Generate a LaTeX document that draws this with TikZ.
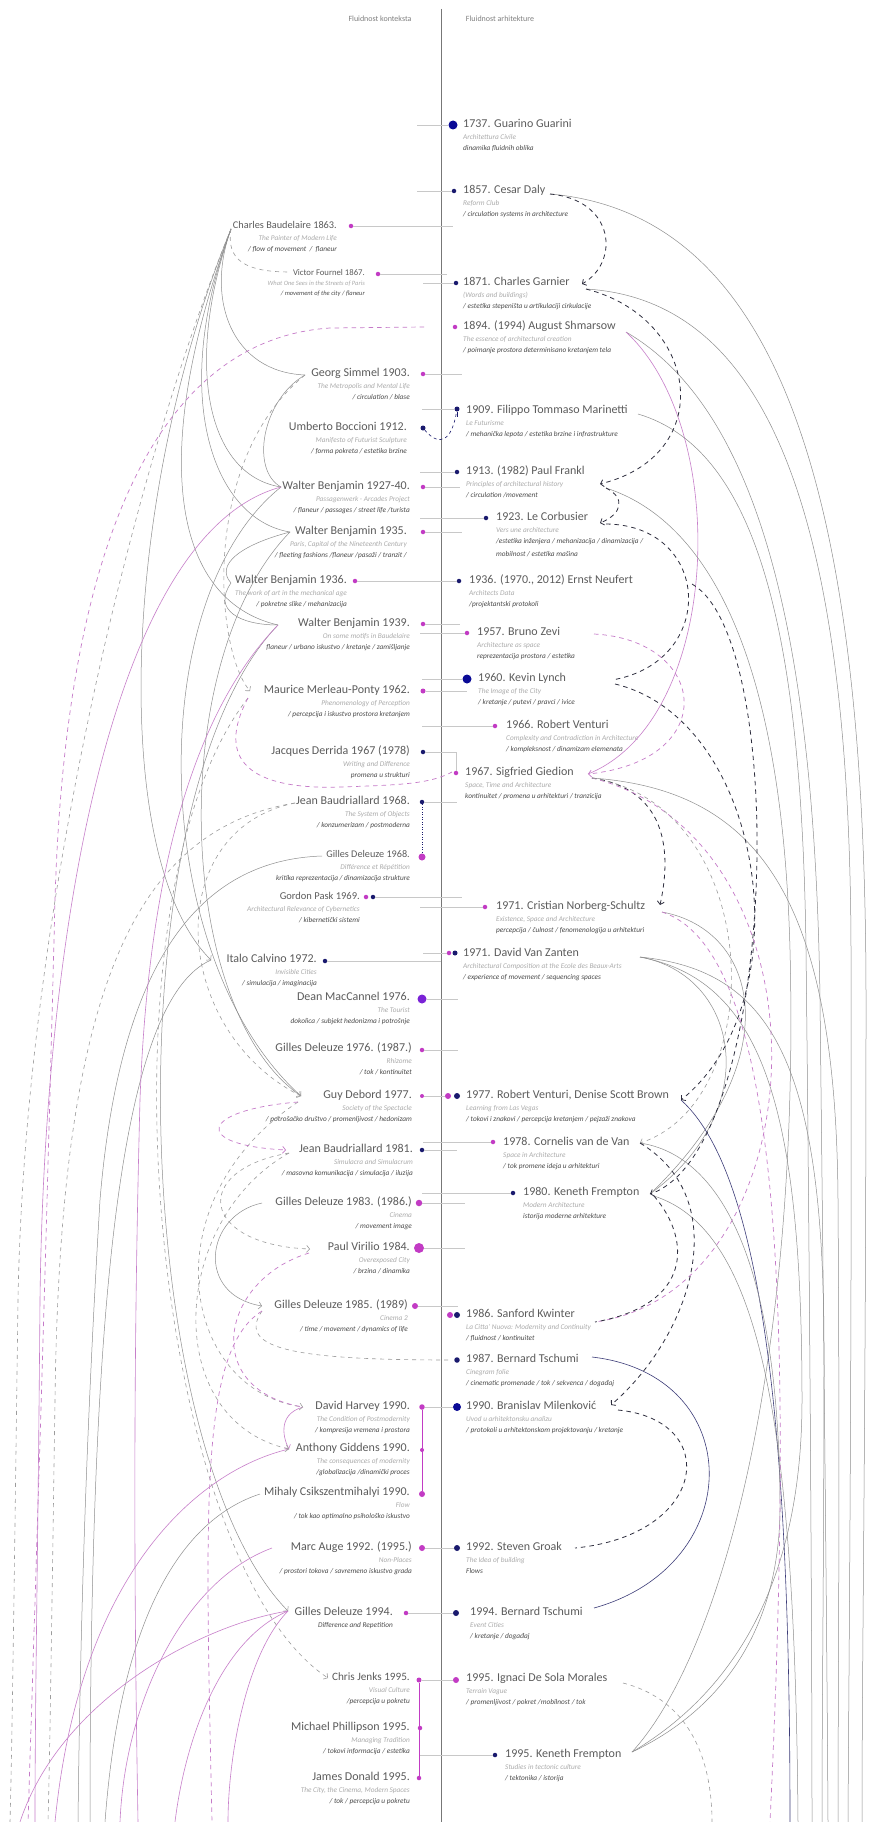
\documentclass[tikz,border=0pt]{standalone}
\usepackage{fontspec}
\setmainfont{Carlito}
\usetikzlibrary{arrows.meta}

\definecolor{navy}{HTML}{1A1A6E}
\definecolor{blu}{HTML}{0A0A96}
\definecolor{mag}{HTML}{C23BC4}
\definecolor{vio}{HTML}{7A22D6}
\definecolor{ttlc}{HTML}{5C5C5C}
\definecolor{s1c}{HTML}{ABABAB}
\definecolor{s2c}{HTML}{4A4A4A}
\definecolor{axc}{HTML}{777777}
\definecolor{leadc}{HTML}{C8C8C8}
\definecolor{gline}{HTML}{8E8E8E}
\definecolor{pline}{HTML}{C77FCA}
\definecolor{nline}{HTML}{3C3C78}
\definecolor{bdc}{HTML}{2E2E3E}
\definecolor{gdc}{HTML}{9C9C9C}
\definecolor{pdc}{HTML}{C57AC8}

% one entry of the left (context) column: title, book, keywords
\newcommand{\LeftItem}[7]{%
  \node[ttl,anchor=mid east,font=\fontsize{#4}{#4}\selectfont] (#1) at (#2,#3) {#5};
  \node[sa,anchor=mid east] (#1-a) at (#2,#3+12) {#6};
  \node[sb,anchor=mid east] (#1-b) at (#2,#3+23) {#7};}
% one entry of the right (architecture) column
\newcommand{\RightItem}[7]{%
  \node[ttl,anchor=mid west,font=\fontsize{#4}{#4}\selectfont] (#1) at (#2,#3) {#5};
  \node[sa,anchor=mid west] (#1-a) at (#2,#3+12) {#6};
  \node[sb,anchor=mid west] (#1-b) at (#2,#3+23) {#7};}

\begin{document}
\begin{tikzpicture}[x=1pt,y=-1pt,
  ttl/.style={inner sep=0pt,text=ttlc},
  sa/.style={inner sep=0pt,text=s1c,font=\fontsize{7.3}{8}\selectfont\itshape},
  sb/.style={inner sep=0pt,text=s2c,font=\fontsize{7.3}{8}\selectfont\itshape},
  hdr/.style={inner sep=0pt,text=gray,font=\fontsize{8}{9}\selectfont},
  dotm/.style={circle,fill=mag,inner sep=0pt,minimum size=4.5pt},
  dotn/.style={circle,fill=navy,inner sep=0pt,minimum size=4.5pt},
  dotb/.style={circle,fill=blu,inner sep=0pt,minimum size=9pt},
  axis/.style={draw=axc,line width=0.7pt},
  lead/.style={draw=leadc,line width=0.5pt},
  gsol/.style={draw=gline,line width=0.5pt},
  psol/.style={draw=pline,line width=0.6pt},
  nsol/.style={draw=nline,line width=0.6pt},
  bdash/.style={draw=bdc,line width=0.8pt,dash pattern=on 4.5pt off 4pt},
  gdash/.style={draw=gdc,line width=0.6pt,dash pattern=on 4pt off 4pt},
  pdash/.style={draw=pdc,line width=0.7pt,dash pattern=on 4.5pt off 4pt},
  barb/.style={-{Straight Barb[length=3pt,width=7pt]}}]

\fill[white] (0,0) rectangle (875,1822);
\useasboundingbox (0,0) rectangle (875,1822);

% ---------- time axis and column headings ----------
\coordinate (ax-top) at (441,9);
\coordinate (ax-bot) at (441,1822);
\draw[axis] (ax-top) -- (ax-bot);
\node[hdr] (hk) at (380,19) {Fluidnost konteksta};
\node[hdr] (ha) at (500,19) {Fluidnost arhitekture};

% ---------- context column ----------
\LeftItem{baud}{337}{226}{10.3}{Charles Baudelaire 1863.}{The Painter of Modern Life}{/ flow of movement \ / \ flaneur}
\node[ttl,anchor=mid east,font=\fontsize{8.7}{9}\selectfont] (fourn) at (365,273) {Victor Fournel 1867.};
\node[sa,anchor=mid east,font=\fontsize{6.5}{7}\selectfont\itshape] (fourn-a) at (365,283) {What One Sees in the Streets of Paris};
\node[sb,anchor=mid east,font=\fontsize{6.5}{7}\selectfont\itshape] (fourn-b) at (365,293) {/ movement of the city / flaneur};
\LeftItem{sim}{410}{374}{12}{Georg Simmel 1903.}{The Metropolis and Mental Life}{/ circulation / blase}
\LeftItem{boc}{407}{428}{12}{Umberto Boccioni 1912.}{Manifesto of Futurist Sculpture}{/ forma pokreta / estetika brzine}
\LeftItem{wbA}{410}{487}{12}{Walter Benjamin 1927-40.}{Passagenwerk - Arcades Project}{/ flaneur / passages / street life /turista}
\LeftItem{wbB}{407}{532}{12}{Walter Benjamin 1935.}{Paris, Capital of the Nineteenth Century}{/ fleeting fashions /flaneur /pasaži / tranzit /}
\LeftItem{wbC}{347}{581}{12}{Walter Benjamin 1936.}{The work of art in the mechanical age}{/ pokretne slike / mehanizacija}
\LeftItem{wbD}{410}{624}{12}{Walter Benjamin 1939.}{On some motifs in Baudelaire}{flaneur / urbano iskustvo / kretanje / zamišljanje}
\LeftItem{mer}{410}{691}{12}{Maurice Merleau-Ponty 1962.}{Phenomenology of Perception}{/ percepcija i iskustvo prostora kretanjem}
\LeftItem{der}{410}{752}{12}{Jacques Derrida 1967 (1978)}{Writing and Difference}{promena u strukturi}
\LeftItem{bdA}{410}{802}{12}{Jean Baudriallard 1968.}{The System of Objects}{/ konzumerizam / postmoderna}
\LeftItem{dlA}{410}{855}{10.2}{Gilles Deleuze 1968.}{Différence et Répétition}{kritika reprezentacija / dinamizacija strukture}
\LeftItem{pask}{360}{897}{10.5}{Gordon Pask 1969.}{Architectural Relevance of Cybernetics}{/ kibernetički sistemi}
\LeftItem{calv}{317}{960}{12}{Italo Calvino 1972.}{Invisible Cities}{/ simulacija / imaginacija}
\LeftItem{mac}{410}{998}{12}{Dean MacCannel 1976.}{The Tourist}{dokolica / subjekt hedonizma i potrošnje}
\LeftItem{dlB}{412}{1049}{12}{Gilles Deleuze 1976. (1987.)}{Rhizome}{/ tok / kontinuitet}
\LeftItem{deb}{412}{1096}{12}{Guy Debord 1977.}{Society of the Spectacle}{/ potrošačko društvo / promenljivost / hedonizam}
\LeftItem{bdB}{413}{1150}{12}{Jean Baudriallard 1981.}{Simulacra and Simulacrum}{/ masovna komunikacija / simulacija / iluzija}
\LeftItem{dlC}{412}{1203}{12}{Gilles Deleuze 1983. (1986.)}{Cinema}{/ movement image}
\LeftItem{vir}{410}{1248}{12}{Paul Virilio 1984.}{Overexposed City}{/ brzina / dinamika}
\LeftItem{dlD}{408}{1306}{12}{Gilles Deleuze 1985. (1989)}{Cinema 2}{/ time / movement / dynamics of life}
\LeftItem{har}{410}{1407}{12}{David Harvey 1990.}{The Condition of Postmodernity}{/ kompresija vremena i prostora}
\LeftItem{gid}{410}{1449}{12}{Anthony Giddens 1990.}{The consequences of modernity}{/globalizacija /dinamički proces}
\LeftItem{csik}{410}{1493}{12}{Mihaly Csikszentmihalyi 1990.}{Flow}{/ tok kao optimalno psihološko iskustvo}
\LeftItem{auge}{412}{1548}{12}{Marc Auge 1992. (1995.)}{Non-Places}{/ prostori tokova / savremeno iskustvo grada}
\node[ttl,anchor=mid east,font=\fontsize{12}{12}\selectfont] (dlE) at (393,1613) {Gilles Deleuze 1994.};
\node[sb,anchor=mid east] (dlE-a) at (393,1625) {Difference and Repetition};
\LeftItem{jenks}{410}{1678}{11.2}{Chris Jenks 1995.}{Visual Culture}{/percepcija u pokretu}
\LeftItem{phil}{410}{1728}{12}{Michael Phillipson 1995.}{Managing Tradition}{/ tokovi informacija / estetika}
\LeftItem{don}{410}{1778}{12}{James Donald 1995.}{The City, the Cinema, Modern Spaces}{/ tok / percepcija u pokretu}

% ---------- architecture column ----------
\RightItem{gua}{463}{125}{12}{1737. Guarino Guarini}{Architettura Civile}{dinamika fluidnih oblika}
\RightItem{daly}{463}{191}{12}{1857. Cesar Daly}{Reform Club}{/ circulation systems in architecture}
\RightItem{gar}{463}{283}{12}{1871. Charles Garnier}{(Words and buildings)}{/ estetika stepeništa u artikulaciji cirkulacije}
\RightItem{shm}{463}{327}{12}{1894. (1994) August Shmarsow}{The essence of architectural creation}{/ poimanje prostora determinisano kretanjem tela}
\RightItem{mar}{466}{411}{12}{1909. Filippo Tommaso Marinetti}{Le Futurisme}{/ mehanička lepota / estetika brzine i infrastrukture}
\RightItem{fra}{466}{472}{12}{1913. (1982) Paul Frankl}{Principles of architectural history}{/ circulation /movement}
\RightItem{cor}{496}{518}{12}{1923. Le Corbusier}{Vers une architecture}{/estetika inženjera / mehanizacija / dinamizacija /}
\node[sb,anchor=mid west] (cor-c) at (496,554) {mobilnost / estetika mašina};
\RightItem{neu}{469}{581}{12}{1936. (1970., 2012) Ernst Neufert}{Architects Data}{/projektantski protokoli}
\RightItem{zevi}{477}{633}{12}{1957. Bruno Zevi}{Architecture as space}{reprezentacija prostora / estetika}
\RightItem{lyn}{478}{679}{12}{1960. Kevin Lynch}{The Image of the City}{/ kretanje / putevi / pravci / ivice}
\RightItem{ven}{506}{726}{12}{1966. Robert Venturi}{Complexity and Contradiction in Architecture}{/ kompleksnost / dinamizam elemenata}
\RightItem{gie}{465}{773}{12}{1967. Sigfried Giedion}{Space, Time and Architecture}{kontinuitet / promena u arhitekturi / tranzicija}
\RightItem{nor}{496}{907}{12}{1971. Cristian Norberg-Schultz}{Existence, Space and Architecture}{percepcija / čulnost / fenomenologija u arhitekturi}
\RightItem{zan}{463}{954}{12}{1971. David Van Zanten}{Architectural Composition at the Ecole des Beaux-Arts}{/ experience of movement / sequencing spaces}
\RightItem{vsb}{466}{1096}{12}{1977. Robert Venturi, Denise Scott Brown}{Learning from Las Vegas}{/ tokovi i znakovi / percepcija kretanjem / pejzaži znakova}
\RightItem{vdv}{503}{1143}{12}{1978. Cornelis van de Van}{Space in Architecture}{/ tok promene ideja u arhitekturi}
\RightItem{frA}{523}{1193}{12}{1980. Keneth Frempton}{Modern Architecture}{istorija moderne arhitekture}
\RightItem{kwi}{466}{1315}{12}{1986. Sanford Kwinter}{La Citta' Nuova: Modernity and Continuity}{/ fluidnost / kontinuitet}
\RightItem{tsA}{466}{1360}{12}{1987. Bernard Tschumi}{Cinegram folie}{/ cinematic promenade / tok / sekvenca / događaj}
\RightItem{mil}{466}{1407}{12}{1990. Branislav Milenković}{Uvod u arhitektonsku analizu}{/ protokoli u arhitektonskom projektovanju / kretanje}
\RightItem{gro}{466}{1548}{12}{1992. Steven Groak}{The Idea of building}{Flows}
\RightItem{tsB}{470}{1613}{12}{1994. Bernard Tschumi}{Event Cities}{/ kretanje / događaj}
\RightItem{sol}{466}{1679}{12}{1995. Ignaci De Sola Morales}{Terrain Vague}{/ promenljivost / pokret /mobilnost / tok}
\RightItem{frB}{505}{1755}{12}{1995. Keneth Frempton}{Studies in tectonic culture}{/ tektonika / istorija}

% ---------- markers: left ----------
\node[dotm] (baud-d) at (351,226) {};
\node[dotm] (fourn-d) at (378,274) {};
\node[dotm] (sim-d) at (423,374) {};
\node[dotn,minimum size=5pt] (boc-d) at (423,428) {};
\node[dotm] (wbA-d) at (423,487) {};
\node[dotm] (wbB-d) at (423,532) {};
\node[dotm] (wbC-d) at (355,581) {};
\node[dotm] (wbD-d) at (423,624) {};
\node[dotm,minimum size=5pt] (mer-d) at (423,691) {};
\node[dotn] (der-d) at (423,752) {};
\node[dotn] (bdA-d) at (422,802) {};
\node[dotm,minimum size=7pt] (dlA-d) at (422,857) {};
\node[dotm] (pask-d1) at (366,897) {};
\node[dotn] (pask-d2) at (373,897) {};
\node[dotn] (calv-d) at (325,961) {};
\node[circle,fill=vio,inner sep=0pt,minimum size=9pt] (mac-d) at (422,999) {};
\node[dotm] (dlB-d) at (422,1050) {};
\node[dotm,minimum size=4pt] (deb-d) at (422,1096) {};
\node[dotn] (bdB-d) at (422,1150) {};
\node[dotm,minimum size=6.5pt] (dlC-d) at (419,1203) {};
\node[dotm,minimum size=10pt] (vir-d) at (419,1248) {};
\node[dotm,minimum size=6pt] (dlD-d) at (415,1306) {};
\node[dotm,minimum size=5.5pt] (har-d) at (422,1407) {};
\node[dotm,minimum size=4pt] (gid-d) at (422,1450) {};
\node[dotm,minimum size=6pt] (csik-d) at (422,1494) {};
\node[dotm,minimum size=6pt] (auge-d) at (422,1548) {};
\node[dotm] (dlE-d) at (406,1613) {};
\node[dotm,minimum size=5pt] (jenks-d) at (419,1680) {};
\node[dotm] (phil-d) at (420,1728) {};
\node[dotm] (don-d) at (419,1778) {};

% ---------- markers: right ----------
\node[dotb] (gua-d) at (453,125) {};
\node[dotn] (daly-d) at (454,191) {};
\node[dotn] (gar-d) at (456,283) {};
\node[dotm] (shm-d) at (455,327) {};
\node[dotn,minimum size=5pt] (mar-d) at (457,409) {};
\node[dotn] (fra-d) at (457,472) {};
\node[dotn] (cor-d) at (486,518) {};
\node[dotn] (neu-d) at (459,581) {};
\node[dotm] (zevi-d) at (467,633) {};
\node[dotb] (lyn-d) at (467,679) {};
\node[dotm] (ven-d) at (495,726) {};
\node[dotm] (gie-d) at (456,773) {};
\node[dotm] (nor-d) at (485,907) {};
\node[dotm] (zan-d1) at (449,953) {};
\node[dotn,minimum size=5pt] (zan-d2) at (455,953) {};
\node[dotm,minimum size=6pt] (vsb-d1) at (448,1096) {};
\node[dotn,minimum size=6pt] (vsb-d2) at (457,1096) {};
\node[dotm] (vdv-d) at (493,1142) {};
\node[dotn] (frA-d) at (513,1193) {};
\node[dotm,minimum size=6pt] (kwi-d1) at (450,1315) {};
\node[dotn,minimum size=6pt] (kwi-d2) at (457,1315) {};
\node[dotn,minimum size=5.5pt] (tsA-d) at (457,1360) {};
\node[dotb,minimum size=8pt] (mil-d) at (457,1407) {};
\node[dotn,minimum size=6pt] (gro-d) at (457,1548) {};
\node[dotn,minimum size=6pt] (tsB-d) at (456,1613) {};
\node[dotm,minimum size=6pt] (sol-d) at (456,1680) {};
\node[dotn] (frB-d) at (495,1755) {};

% ---------- leader lines ----------
\coordinate (baud-e) at (453,226);  \draw[lead] (baud-d) -- (baud-e);
\coordinate (fourn-e) at (447,274); \draw[lead] (fourn-d) -- (fourn-e);
\coordinate (sim-e) at (462,374);   \draw[lead] (sim-d) -- (sim-e);
\coordinate (wbA-e) at (460,487);   \draw[lead] (wbA-d) -- (wbA-e);
\coordinate (wbB-e) at (462,532);   \draw[lead] (wbB-d) -- (wbB-e);
\draw[lead] (wbC-d) -- (neu-d);
\coordinate (wbD-e) at (460,624);   \draw[lead] (wbD-d) -- (wbD-e);
\coordinate (mer-e) at (467,691);   \draw[lead] (mer-d) -- (mer-e);
\draw[lead] (der-d) -| (gie-d);
\coordinate (bdA-e) at (457,802);   \draw[lead] (bdA-d) -- (bdA-e);
\coordinate (pask-e) at (462,897);  \draw[lead] (pask-d2) -- (pask-e);
\coordinate (calv-e) at (441,961);  \draw[lead] (calv-d) -- (calv-e);
\coordinate (mac-e) at (458,999);   \draw[lead] (mac-d) -- (mac-e);
\coordinate (dlB-e) at (458,1050);  \draw[lead] (dlB-d) -- (dlB-e);
\draw[lead] (deb-d) -- (vsb-d1);
\coordinate (bdB-e) at (457,1150);  \draw[lead] (bdB-d) -- (bdB-e);
\coordinate (dlC-e) at (465,1203);  \draw[lead] (dlC-d) -- (dlC-e);
\coordinate (vir-e) at (465,1248);  \draw[lead] (vir-d) -- (vir-e);
\coordinate (dlD-e) at (458,1306);  \draw[lead] (dlD-d) -- (dlD-e);
\draw[lead] (har-d) -- (mil-d);
\draw[lead] (auge-d) -- (gro-d);
\draw[lead] (dlE-d) -- (tsB-d);
\draw[lead] (jenks-d) -- (sol-d);
\coordinate (gua-s) at (417,125);   \draw[lead] (gua-s) -- (gua-d);
\coordinate (daly-s) at (417,191);  \draw[lead] (daly-s) -- (daly-d);
\coordinate (gar-s) at (423,283);   \draw[lead] (gar-s) -- (gar-d);
\coordinate (mar-s) at (422,409);   \draw[lead] (mar-s) -- (mar-d);
\coordinate (fra-s) at (420,472);   \draw[lead] (fra-s) -- (fra-d);
\coordinate (cor-s) at (420,518);   \draw[lead] (cor-s) -- (cor-d);
\coordinate (zevi-s) at (420,633);  \draw[lead] (zevi-s) -- (zevi-d);
\coordinate (lyn-s) at (422,679);   \draw[lead] (lyn-s) -- (lyn-d);
\coordinate (ven-s) at (422,726);   \draw[lead] (ven-s) -- (ven-d);
\coordinate (nor-s) at (420,907);   \draw[lead] (nor-s) -- (nor-d);
\coordinate (zan-s) at (423,953);   \draw[lead] (zan-s) -- (zan-d1);
\coordinate (vdv-s) at (423,1142);  \draw[lead] (vdv-s) -- (vdv-d);
\coordinate (frA-s) at (422,1193);  \draw[lead] (frA-s) -- (frA-d);
\coordinate (frB-s) at (420,1755);  \draw[lead] (frB-s) -- (frB-d);

% groups of simultaneous works
\draw[draw=navy,line width=0.5pt,dotted] (bdA-d) -- (dlA-d);
\draw[draw=mag,line width=0.6pt] (har-d) -- (csik-d);
\draw[draw=mag,line width=0.5pt] (jenks-d) -- (don-d);
\draw[draw=navy,line width=0.9pt] (mar-d) -- ++(0,8);
\draw[draw=navy,line width=0.6pt,dash pattern=on 3pt off 3pt] (boc-d) .. controls (440,448) and (452,440) .. (mar-d);

% ---------- connector end points ----------
\coordinate (daly-out) at (550,194);
\coordinate (gar-in) at (582,284);
\coordinate (gar-out) at (586,289);
\coordinate (shm-out) at (626,332);
\coordinate (shm-l) at (424,327);
\coordinate (mar-out) at (638,414);
\coordinate (fra-in) at (600,484);
\coordinate (fra-out) at (606,488);
\coordinate (cor-in) at (600,523);
\coordinate (cor-out) at (606,524);
\coordinate (neu-out) at (692,584);
\coordinate (zevi-out) at (594,634);
\coordinate (lyn-in) at (612,680);
\coordinate (lyn-out) at (615,684);
\coordinate (gie-in) at (588,774);
\coordinate (gie-out) at (592,778);
\coordinate (nor-in) at (660,905);
\coordinate (nor-out) at (662,912);
\coordinate (zan-out) at (640,957);
\coordinate (vsb-in) at (681,1100);
\coordinate (vdv-in) at (640,1143);
\coordinate (frA-in) at (650,1194);
\coordinate (frA-out) at (654,1196);
\coordinate (kwi-in) at (595,1322);
\coordinate (tsA-out) at (592,1357);
\coordinate (mil-in) at (611,1405);
\coordinate (mil-out) at (618,1410);
\coordinate (gro-in) at (575,1548);
\coordinate (tsB-in) at (594,1608);
\coordinate (sol-out) at (623,1683);
\coordinate (frB-in) at (632,1752);

\coordinate (baud-w) at (231,229);
\coordinate (fourn-in) at (290,272);
\coordinate (sim-in) at (305,375);
\coordinate (wbA-in) at (281,487);
\coordinate (wbB-in) at (290,532);
\coordinate (wbC-w) at (231,583);
\coordinate (wbD-in) at (278,625);
\coordinate (mer-in) at (250,691);
\coordinate (mer-out) at (248,698);
\coordinate (gie-l) at (452,772);
\coordinate (bdA-out) at (295,803);
\coordinate (dlA-out) at (322,856);
\coordinate (calv-in) at (211,960);
\coordinate (deb-in) at (301,1096);
\coordinate (deb-out) at (298,1102);
\coordinate (bdB-in) at (286,1150);
\coordinate (bdB-out) at (289,1153);
\coordinate (dlC-out) at (262,1203);
\coordinate (vir-in) at (310,1249);
\coordinate (vir-out) at (309,1253);
\coordinate (dlD-in) at (262,1306);
\coordinate (dlD-out) at (262,1311);
\coordinate (tsA-l) at (452,1360);
\coordinate (har-in) at (303,1407);
\coordinate (gid-in) at (289,1449);
\coordinate (csik-out) at (260,1494);
\coordinate (auge-out) at (272,1548);
\coordinate (dlE-in) at (288,1611);
\coordinate (jenks-in) at (328,1678);

% loose ends at the lower edge
\coordinate (bR1) at (862,1822);
\coordinate (bR2) at (848,1822);
\coordinate (bR3) at (828,1822);
\coordinate (bR4) at (812,1822);
\coordinate (bR5) at (838,1822);
\coordinate (bR6) at (822,1822);
\coordinate (bR7) at (790,1822);
\coordinate (bR8) at (798,1822);
\coordinate (bR9) at (712,1822);
\coordinate (bR10) at (770,1822);
\coordinate (bL1) at (78,1822);
\coordinate (bL2) at (105,1822);
\coordinate (bL3) at (35,1822);
\coordinate (bL4) at (138,1822);
\coordinate (bL5) at (55,1822);
\coordinate (bL6) at (120,1822);
\coordinate (bL7) at (175,1822);
\coordinate (bL8) at (228,1822);
\coordinate (bL9) at (20,1822);
\coordinate (bL10) at (10,1822);
\coordinate (bL11) at (48,1822);
\coordinate (bL12) at (28,1822);
\coordinate (bL13) at (212,1822);
\coordinate (bL14) at (90,1822);

% ---------- architecture side: solid links ----------
\draw[gsol] (daly-out) .. controls (790,215) and (866,520) .. (866,1000) .. controls (866,1400) and (862,1650) .. (bR1);
\draw[gsol] (gar-out) .. controls (770,300) and (850,520) .. (851,950) .. controls (852,1350) and (849,1650) .. (bR2);
\draw[gsol] (shm-out) .. controls (760,410) and (815,640) .. (820,1000) .. controls (824,1350) and (827,1650) .. (bR3);
\draw[psol] (shm-out) .. controls (732,430) and (722,720) .. (gie-in);
\draw[gsol] (mar-out) .. controls (760,450) and (802,640) .. (806,950) .. controls (810,1300) and (812,1650) .. (bR4);
\draw[gsol] (fra-out) .. controls (705,520) and (782,650) .. (790,950) .. controls (800,1350) and (725,1650) .. (frB-in);
\draw[gsol] (gie-out) .. controls (760,790) and (836,900) .. (838,1200) .. controls (840,1500) and (838,1700) .. (bR5);
\draw[gsol] (zan-out) .. controls (740,975) and (765,1110) .. (frA-in);
\draw[gsol] (zan-out) .. controls (760,980) and (802,1100) .. (802,1400) .. controls (802,1600) and (720,1700) .. (frB-in);
\draw[gsol] (zan-out) .. controls (770,970) and (824,1060) .. (824,1350) .. controls (824,1550) and (822,1700) .. (bR6);
\draw[gsol] (nor-out) .. controls (760,930) and (790,1060) .. (frA-in);
\draw[nsol] (vsb-in) .. controls (770,1180) and (790,1480) .. (bR7);
\draw[gsol] (frA-out) .. controls (760,1230) and (795,1420) .. (bR8);
\draw[gsol] (vdv-in) .. controls (720,1155) and (778,1260) .. (780,1500) .. controls (782,1650) and (700,1720) .. (frB-in);
\draw[nsol] (tsA-out) .. controls (748,1375) and (748,1565) .. (tsB-in);

% ---------- architecture side: dashed links ----------
\draw[bdash,barb] (daly-out) .. controls (615,200) and (620,262) .. (gar-in);
\draw[bdash,barb] (gar-out) .. controls (700,318) and (718,455) .. (fra-in);
\draw[bdash,barb] (fra-out) .. controls (626,498) and (622,514) .. (cor-in);
\draw[bdash] (cor-out) .. controls (712,525) and (718,662) .. (lyn-in);
\draw[bdash,barb] (neu-out) .. controls (790,640) and (778,1150) .. (frA-in);
\draw[bdash,barb] (lyn-out) .. controls (765,720) and (805,1000) .. (vsb-in);
\draw[pdash,barb] (zevi-out) .. controls (708,640) and (722,760) .. (gie-in);
\draw[bdash,barb] (gie-out) .. controls (672,790) and (670,860) .. (nor-in);
\draw[pdash] (gie-out) .. controls (840,840) and (822,1290) .. (kwi-in);
\draw[gdash,barb] (gie-out) .. controls (765,805) and (772,1100) .. (vdv-in);
\draw[pdash] (nor-out) .. controls (780,950) and (795,1300) .. (bR10);
\draw[bdash] (frA-out) .. controls (692,1240) and (692,1305) .. (kwi-in);
\draw[bdash,barb] (vdv-in) .. controls (735,1200) and (692,1335) .. (mil-in);
\draw[bdash] (mil-out) .. controls (722,1420) and (708,1535) .. (gro-in);
\draw[gdash] (sol-out) .. controls (690,1700) and (712,1760) .. (bR9);

% ---------- context side: solid links ----------
\draw[gsol] (baud-w) .. controls (205,300) and (232,372) .. (sim-in);
\draw[gsol] (baud-w) .. controls (185,360) and (205,475) .. (wbA-in);
\draw[gsol] (baud-w) .. controls (168,400) and (215,520) .. (wbB-in);
\draw[gsol] (baud-w) .. controls (150,450) and (170,600) .. (wbD-in);
\draw[gsol] (sim-in) .. controls (262,400) and (250,470) .. (wbA-in);
\draw[gsol] (wbB-in) .. controls (240,545) and (215,565) .. (wbC-w);
\draw[gsol] (wbC-w) .. controls (212,610) and (240,625) .. (wbD-in);
\draw[gsol,barb] (wbA-in) .. controls (140,600) and (150,960) .. (deb-in);
\draw[gsol] (wbB-in) .. controls (165,660) and (175,1010) .. (deb-in);
\draw[gsol] (dlA-out) .. controls (200,860) and (120,960) .. (100,1200) .. controls (85,1450) and (80,1650) .. (bL1);
\draw[gsol,barb] (dlC-out) .. controls (205,1215) and (195,1295) .. (dlD-in);
\draw[gsol] (csik-out) .. controls (180,1520) and (120,1620) .. (bL2);
\draw[gsol,barb] (wbD-in) .. controls (110,800) and (130,1450) .. (dlE-in);
\draw[gsol,barb] (baud-w) .. controls (120,500) and (110,860) .. (calv-in);
\draw[gsol] (calv-in) .. controls (120,1000) and (90,1300) .. (bL14);
\draw[psol] (wbA-in) .. controls (120,530) and (45,900) .. (40,1300) .. controls (38,1550) and (35,1700) .. (bL3);
\draw[psol] (wbD-in) .. controls (215,690) and (150,820) .. (140,1100) .. controls (132,1400) and (135,1650) .. (bL4);
\draw[psol,barb] (har-in) .. controls (275,1415) and (285,1442) .. (gid-in);
\draw[psol] (gid-in) .. controls (200,1470) and (80,1570) .. (bL5);
\draw[psol] (auge-out) .. controls (185,1580) and (125,1700) .. (bL6);
\draw[psol] (dlE-in) .. controls (220,1640) and (185,1740) .. (bL7);
\draw[psol] (dlE-in) .. controls (245,1655) and (228,1760) .. (bL8);
\draw[psol] (dlE-in) .. controls (200,1625) and (60,1700) .. (bL9);

% ---------- context side: dashed links ----------
\draw[gdash] (baud-w) .. controls (226,260) and (245,272) .. (fourn-in);
\draw[gdash] (baud-w) .. controls (140,450) and (25,900) .. (18,1300) .. controls (14,1600) and (12,1750) .. (bL10);
\draw[gdash,barb] (sim-in) .. controls (200,460) and (215,650) .. (mer-in);
\draw[gdash,barb] (bdA-out) .. controls (160,830) and (170,1030) .. (deb-in);
\draw[gdash] (bdA-out) .. controls (130,830) and (60,1000) .. (55,1400) .. controls (52,1600) and (50,1750) .. (bL11);
\draw[gdash,barb] (bdB-out) .. controls (190,1170) and (200,1245) .. (vir-in);
\draw[gdash] (dlD-out) .. controls (235,1350) and (300,1360) .. (tsA-l);
\draw[gdash,barb] (deb-out) .. controls (150,1200) and (180,1390) .. (har-in);
\draw[gdash,barb] (bdB-out) .. controls (170,1220) and (160,1420) .. (gid-in);
\draw[gdash,barb] (mer-out) .. controls (90,900) and (150,1560) .. (jenks-in);
\draw[pdash] (shm-l) -- (330,328) .. controls (150,340) and (65,560) .. (55,900) .. controls (45,1300) and (35,1600) .. (bL12);
\draw[pdash] (mer-out) .. controls (215,760) and (250,790) .. (340,787) .. controls (400,785) and (430,784) .. (gie-l);
\draw[pdash,barb] (deb-out) .. controls (200,1110) and (190,1145) .. (bdB-in);
\draw[pdash] (vir-out) .. controls (220,1280) and (200,1390) .. (har-in);
\draw[pdash] (dlD-out) .. controls (200,1350) and (205,1500) .. (bL13);

\end{tikzpicture}
\end{document}
